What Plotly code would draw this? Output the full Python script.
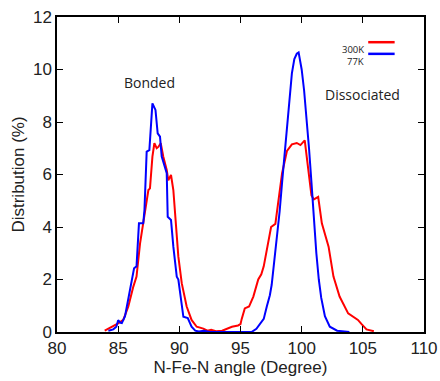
import plotly.graph_objects as go

# 300K series (red)
x_300k = [83.9, 84.47, 85.0, 85.42, 85.83, 86.24, 86.5, 86.79, 87.14, 87.47, 87.6, 87.8, 87.96,
          88.15, 88.28, 88.48, 88.69, 88.97, 89.1, 89.32, 89.51, 89.7, 89.92, 90.2, 90.6, 91.0,
          91.42, 91.96, 92.3, 92.6, 93.0, 93.5, 93.9, 94.3, 94.8, 95.0, 95.1, 95.35, 95.7, 96.05,
          96.45, 96.7, 96.9, 97.15, 97.5, 97.85, 98.2, 98.4, 98.8, 99.2, 99.6, 99.9, 100.25,
          100.5, 100.8, 101.0, 101.35, 101.65, 102.2, 102.6, 103.1, 103.8, 104.6, 104.9, 105.3, 105.9]
y_300k = [0.05, 0.18, 0.33, 0.46, 0.97, 1.73, 2.11, 3.38, 4.52, 5.41, 5.47, 6.68, 7.19,
          7.0, 7.05, 7.19, 6.68, 6.17, 5.78, 5.98, 5.41, 4.14, 2.87, 1.85, 0.97, 0.46,
          0.2, 0.13, 0.05, 0.08, 0.03, 0.05, 0.14, 0.2, 0.25, 0.3, 0.5, 0.9, 0.97, 1.35,
          2.0, 2.2, 2.5, 3.1, 4.0, 4.12, 5.4, 6.05, 6.9, 7.15, 7.2, 7.12, 7.3,
          6.4, 5.2, 5.05, 5.15, 4.14, 3.25, 2.11, 1.35, 0.71, 0.46, 0.3, 0.1, 0.03]

# 77K series (blue)
x_77k = [84.2, 84.6, 84.85, 85.0, 85.2, 85.3, 85.56, 85.8, 86.0, 86.3, 86.5, 86.7, 87.05, 87.15,
         87.33, 87.55, 87.8, 88.05, 88.23, 88.42, 88.56, 88.97, 89.05, 89.32, 89.51, 89.79,
         89.92, 90.2, 90.33, 90.69, 91.0, 91.3, 91.6, 92.0, 92.5, 93.5, 94.5, 95.9, 96.3, 96.6,
         96.9, 97.15, 97.4, 97.55, 97.8, 98.0, 98.2, 98.4, 98.6, 98.8, 99.0, 99.2, 99.4, 99.6,
         99.75, 99.9, 100.0, 100.2, 100.4, 100.6, 100.8, 101.0, 101.2, 101.4, 101.6, 101.9,
         102.3, 102.9, 103.9]
y_77k = [0.05, 0.1, 0.2, 0.45, 0.35, 0.34, 0.6, 1.2, 1.6, 2.43, 2.5, 4.14, 4.14, 4.65,
         6.87, 6.93, 8.71, 8.46, 7.57, 7.44, 6.68, 6.05, 4.39, 4.27, 3.25, 2.11,
         2.0, 1.09, 0.58, 0.53, 0.2, 0.05, 0.02, 0.05, 0.0, 0.0, 0.0, 0.0, 0.12, 0.3,
         0.5, 0.97, 1.4, 1.8, 2.8, 3.6, 4.6, 5.7, 6.8, 7.8, 8.9, 9.85, 10.4, 10.6,
         10.65, 10.3, 10.0, 9.2, 8.2, 7.0, 5.7, 4.3, 3.0, 2.0, 1.3, 0.6,
         0.2, 0.05, 0.0]

x_ticks = [80, 85, 90, 95, 100, 105, 110]
y_ticks = [0, 2, 4, 6, 8, 10, 12]

fig = go.Figure()
fig.add_trace(go.Scatter(x=x_300k, y=y_300k, mode="lines", name="300K",
                         line=dict(color="#ff0000", width=2), showlegend=False))
fig.add_trace(go.Scatter(x=x_77k, y=y_77k, mode="lines", name="77K",
                         line=dict(color="#0000ff", width=2), showlegend=False))

tfont = dict(family="Liberation Sans, Arial", size=17, color="#222222")
axis_common = dict(showgrid=False, zeroline=False, showline=True, linecolor="black",
                   linewidth=1.5, mirror="ticks", ticks="inside", ticklen=6,
                   tickcolor="black", tickwidth=1.2, automargin=False, tickfont=tfont)

fig.update_xaxes(range=[80, 110], tickvals=x_ticks, **axis_common,
                 title=dict(text="N-Fe-N angle (Degree)", standoff=2, font=tfont))
fig.update_yaxes(range=[0, 12], tickvals=y_ticks, **axis_common,
                 title=dict(text="Distribution (%)", standoff=4, font=tfont))

ann_font = dict(family="Open Sans, Noto Sans", size=14, color="#222222")
fig.add_annotation(x=87.6, y=9.52, xref="x", yref="y", text="Bonded", showarrow=False, font=ann_font)
fig.add_annotation(x=104.94, y=9.03, xref="x", yref="y", text="Dissociated", showarrow=False, font=ann_font)

# legend (text left of line sample)
leg_font = dict(family="Open Sans, Noto Sans", size=9.5, color="#222222")
for name, col, yy in [("300K", "#ff0000", 0.920), ("77K", "#0000ff", 0.883)]:
    fig.add_annotation(x=0.838, y=yy, xref="paper", yref="paper", text=name, showarrow=False,
                       xanchor="right", font=leg_font, borderpad=0)
    fig.add_shape(type="line", xref="paper", yref="paper", x0=0.848, x1=0.920, y0=yy, y1=yy,
                  line=dict(color=col, width=2.5))

fig.update_layout(width=440, height=381, margin=dict(l=57, r=16, t=17, b=49),
                  plot_bgcolor="white", paper_bgcolor="white")

fig.write_html("out.html", config={"displayModeBar": False},
               post_script="document.body.style.margin='0';")
